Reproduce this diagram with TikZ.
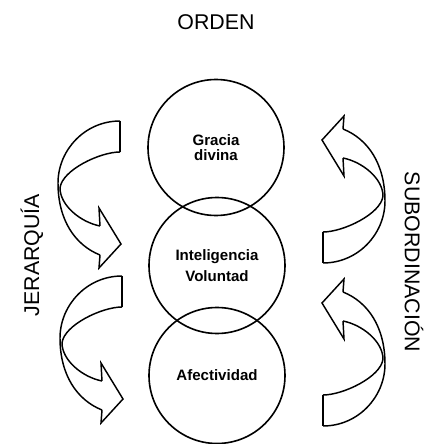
\documentclass[tikz,border=0pt]{standalone}
\usepackage{fontspec}
\setmainfont{Liberation Sans}
\usepackage{tikz}
\usetikzlibrary{positioning}

\tikzset{
  bola/.style={circle, draw, line width=1.2pt, minimum size=102pt, inner sep=0pt,
    align=center, font=\fontsize{11.3}{11.3}\selectfont\bfseries},
  rotulo/.style={font=\fontsize{16}{16}\selectfont},
  flecha/.style={line width=1.1pt}
}

\begin{document}
\begin{tikzpicture}[x=0.75pt, y=0.75pt]
  \useasboundingbox (0,0) rectangle (426,444);
  \node[rotulo] at (216,422) (orden) {ORDEN};
  \node[rotulo, rotate=90] at (32,189) (jerarquia) {JERARQUÍA};
  \node[rotulo, rotate=-90] at (414,182) (subord) {SUBORDINACIÓN};

  \node[bola] at (216,296.5) (gracia) {Gracia\\divina};
  \node[bola] at (217,178.5) (intel) {Inteligencia\\[4.5pt]Voluntad};
  \node[bola] at (217,68.5) (afect) {Afectividad};

  % flecha izquierda de arriba
  \draw[flecha] (120,323) -- (120,292);
  \draw[flecha] (120,292) .. controls (100,292) and (62,274) .. (60,256);
  \draw[flecha] (60,256) .. controls (60,239) and (80,222) .. (100,218);
  \draw[flecha] (100,218) -- (99,236) -- (121,200) -- (99,176) -- (100,189);
  \draw[flecha] (100,189) .. controls (75,199) and (58,224) .. (58,261);
  \draw[flecha] (58,261) .. controls (58,294) and (85,323) .. (120,323);
  % flecha izquierda de abajo
  \draw[flecha] (122,168) -- (122,137);
  \draw[flecha] (122,137) .. controls (102,137) and (64,119) .. (62,101);
  \draw[flecha] (62,101) .. controls (62,84) and (82,67) .. (102,63);
  \draw[flecha] (102,63) -- (101,81) -- (123,45) -- (101,21) -- (102,34);
  \draw[flecha] (102,34) .. controls (77,44) and (60,69) .. (60,106);
  \draw[flecha] (60,106) .. controls (60,139) and (87,168) .. (122,168);
  % flecha derecha de arriba
  \draw[flecha] (323,181) -- (323,212);
  \draw[flecha] (323,212) .. controls (343,212) and (381,230) .. (383,248);
  \draw[flecha] (383,248) .. controls (383,265) and (363,282) .. (343,286);
  \draw[flecha] (343,286) -- (344,268) -- (322,304) -- (344,328) -- (343,315);
  \draw[flecha] (343,315) .. controls (368,305) and (385,280) .. (385,243);
  \draw[flecha] (385,243) .. controls (385,210) and (358,181) .. (323,181);
  % flecha derecha de abajo
  \draw[flecha] (323,18) -- (323,49);
  \draw[flecha] (323,49) .. controls (343,49) and (381,67) .. (383,85);
  \draw[flecha] (383,85) .. controls (383,102) and (363,119) .. (343,123);
  \draw[flecha] (343,123) -- (344,105) -- (322,141) -- (344,165) -- (343,152);
  \draw[flecha] (343,152) .. controls (368,142) and (385,117) .. (385,80);
  \draw[flecha] (385,80) .. controls (385,47) and (358,18) .. (323,18);
\end{tikzpicture}
\end{document}
